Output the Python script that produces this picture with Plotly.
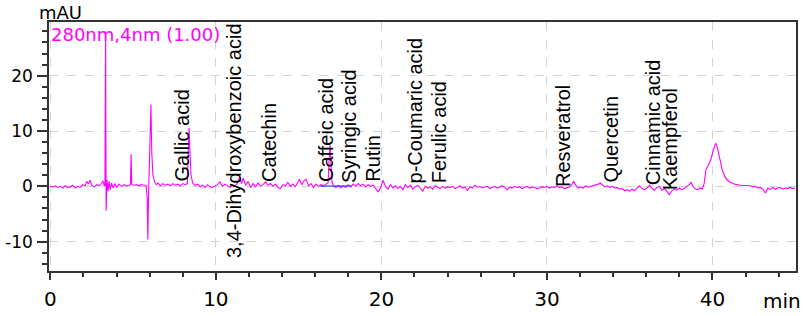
import plotly.graph_objects as go

# ---- data: chromatogram (retention time in min, signal in mAU) ----
rt = [
    0.00, 0.15, 0.30, 0.45, 0.60, 0.75, 0.90, 1.05, 1.20, 1.35, 1.50, 1.65, 1.80, 1.95, 2.10, 2.20, 2.30, 2.40, 2.50, 2.65,
    2.80, 2.95, 3.10, 3.18, 3.25, 3.30, 3.34, 3.37, 3.42, 3.48, 3.55, 3.62, 3.70, 3.80, 3.90, 4.00, 4.15, 4.30, 4.45, 4.60,
    4.75, 4.84, 4.88, 4.92, 5.05, 5.20, 5.35, 5.50, 5.65, 5.78, 5.85, 5.89, 5.93, 5.98, 6.04, 6.08, 6.13, 6.20, 6.30, 6.40,
    6.50, 6.65, 6.80, 6.95, 7.10, 7.25, 7.40, 7.55, 7.70, 7.85, 8.00, 8.15, 8.28, 8.33, 8.38, 8.44, 8.50, 8.60, 8.75, 8.90,
    9.05, 9.20, 9.35, 9.50, 9.65, 9.80, 9.95, 10.10, 10.25, 10.40, 10.55, 10.70, 10.85, 11.00, 11.15, 11.30, 11.45, 11.55, 11.65, 11.80,
    11.95, 12.10, 12.25, 12.40, 12.55, 12.70, 12.85, 13.00, 13.15, 13.30, 13.45, 13.60, 13.75, 13.90, 14.05, 14.20, 14.35, 14.50, 14.65, 14.80,
    14.95, 15.05, 15.20, 15.30, 15.45, 15.60, 15.75, 15.90, 16.05, 16.20, 16.35, 16.50, 16.65, 16.78, 16.84, 16.90, 16.96, 17.02, 17.10, 17.25,
    17.40, 17.55, 17.70, 17.85, 18.00, 18.15, 18.30, 18.45, 18.60, 18.75, 18.90, 19.05, 19.20, 19.35, 19.50, 19.65, 19.80, 19.95, 20.10, 20.25,
    20.40, 20.55, 20.70, 20.85, 21.00, 21.15, 21.30, 21.45, 21.60, 21.75, 21.90, 22.05, 22.20, 22.35, 22.50, 22.65, 22.80, 22.95, 23.10, 23.25,
    23.40, 23.55, 23.70, 23.85, 24.00, 24.15, 24.30, 24.45, 24.60, 24.75, 24.90, 25.05, 25.20, 25.35, 25.50, 25.65, 25.80, 25.95, 26.10, 26.25,
    26.40, 26.55, 26.70, 26.85, 27.00, 27.15, 27.30, 27.45, 27.60, 27.75, 27.90, 28.05, 28.20, 28.35, 28.50, 28.65, 28.80, 28.95, 29.10, 29.25,
    29.40, 29.55, 29.70, 29.85, 30.00, 30.15, 30.30, 30.45, 30.60, 30.75, 30.90, 31.05, 31.20, 31.35, 31.50, 31.62, 31.75, 31.90, 32.05, 32.20,
    32.35, 32.50, 32.65, 32.80, 32.95, 33.10, 33.22, 33.35, 33.50, 33.65, 33.80, 33.95, 34.10, 34.25, 34.40, 34.55, 34.70, 34.85, 35.00, 35.15,
    35.30, 35.45, 35.60, 35.75, 35.90, 36.05, 36.20, 36.35, 36.50, 36.65, 36.80, 36.95, 37.10, 37.25, 37.40, 37.55, 37.70, 37.85, 38.00, 38.15,
    38.30, 38.45, 38.60, 38.70, 38.80, 38.95, 39.10, 39.25, 39.40, 39.50, 39.60, 39.75, 39.90, 40.05, 40.20, 40.30, 40.40, 40.50, 40.60, 40.75,
    40.90, 41.10, 41.40, 41.70, 42.00, 42.30, 42.45, 42.60, 42.75, 42.90, 43.05, 43.20, 43.35, 43.50, 43.65, 43.80, 43.95, 44.10, 44.25, 44.40,
    44.55, 44.70, 44.85, 45.00,
]
mau = [
    0.0, -0.1, 0.1, -0.2, 0.0, -0.3, 0.1, -0.2, -0.1, 0.2, -0.3, 0.0, -0.2, 0.3, 0.1, 0.9, 0.4, 1.1, 0.2, -0.1,
    0.3, 0.1, 0.6, 1.0, 0.2, 0.1, 28.0, -4.4, 1.2, -0.9, 0.9, -0.6, 0.6, -0.3, 0.5, -0.2, 0.4, 0.0, 0.3, 0.1,
    0.2, 0.3, 5.8, 0.4, 0.2, 0.3, 0.1, 0.3, 0.2, 0.2, -2.0, -9.6, -2.0, 3.0, 10.0, 14.8, 6.0, 2.0, 0.8, 0.3,
    0.6, 0.1, 0.5, 0.2, 0.4, 0.1, 0.5, 0.2, 0.4, 0.1, 0.5, 0.3, 0.5, 5.0, 10.6, 6.0, 2.0, 0.6, 0.2, 0.4,
    -0.1, 0.2, -0.2, 0.3, -0.1, -0.2, 0.1, 0.3, 0.8, 0.0, 0.4, 0.1, -0.2, 0.3, 0.0, 0.6, 1.7, 0.5, 1.5, 0.2,
    0.9, -0.2, 0.5, -0.1, 0.6, 0.0, 0.3, 0.8, 0.2, 0.5, 0.0, 0.4, -0.2, -0.4, 0.3, 0.1, 0.7, 0.0, 0.4, -0.1,
    0.6, 1.3, 0.3, 0.9, 1.3, 0.1, 0.5, -0.2, 0.4, 0.0, 0.3, 0.1, 0.4, 0.6, 4.5, 7.5, 4.0, 0.8, 0.1, -0.2,
    0.2, -0.3, 0.1, -0.2, 0.3, -0.1, 0.4, 0.0, 0.5, 0.1, 0.4, -0.1, 0.3, 0.0, 0.2, -0.4, -1.0, -0.3, 1.1, 0.0,
    -0.5, 0.3, -0.3, 0.1, -0.4, 0.0, -0.6, 0.3, -0.2, 0.2, -0.5, -0.1, 0.2, -0.3, -0.9, 0.0, -0.3, -0.1, -0.5, 0.1,
    -0.2, -0.4, 0.0, -0.3, -0.1, -0.2, 0.0, -0.4, -0.2, 0.1, -0.3, -0.1, -0.7, -0.1, -0.3, 0.2, -0.2, 0.0, -0.3, -0.1,
    0.0, -0.4, -0.2, 0.0, -0.3, -0.1, 0.1, -0.2, -0.6, -0.1, -0.3, 0.0, -0.2, -0.1, -0.4, -0.2, 0.0, -0.3, -0.1, -0.2,
    -0.4, -0.3, -0.1, -0.2, 0.0, -0.3, -0.1, -0.2, 0.1, -0.2, -0.1, -0.4, -0.2, -0.1, 0.3, 0.9, 0.2, -0.3, -0.1, -0.3,
    0.1, -0.2, 0.0, 0.1, 0.2, 0.4, 0.6, 0.2, -0.1, 0.1, -0.2, 0.0, -0.3, -0.2, -0.5, -0.4, -0.8, -0.6, -0.9, -0.5,
    -0.8, -0.3, 0.1, -0.4, -0.6, -0.3, 0.2, -0.4, -0.7, -0.2, 0.0, -0.7, -0.4, -0.9, -1.5, -0.8, -0.5, -0.7, -0.3, -0.6,
    -0.4, 0.0, 0.3, 0.8, 0.1, -0.4, -0.6, -0.3, -0.5, 0.5, 2.9, 3.8, 4.8, 6.5, 7.8, 7.0, 5.4, 4.0, 2.9, 1.8,
    1.1, 0.7, 0.35, 0.2, 0.1, 0.1, -0.1, 0.0, -0.3, -0.2, -0.5, -1.2, -0.3, -0.6, -0.2, -0.5, -0.3, -0.2, -0.5, -0.3,
    -0.4, -0.2, -0.4, -0.3,
]

# integration baseline drawn under the caffeic acid peak
baseline_rt = [16.3, 18.2]
baseline_mau = [0.05, 0.05]

# ---- peak labels ----
peak_names = ["Gallic acid", "3,4-Dihydroxybenzoic acid", "Catechin", "Caffeic acid",
              "Syringic acid", "Rutin", "p-Coumaric acid", "Ferulic acid",
              "Resveratrol", "Quercetin", "Cinnamic acid", "Kaempferol"]
peak_rt = [7.95, 11.1, 13.2, 16.65, 18.07, 19.5, 22.0, 23.5, 30.97, 33.87, 36.43, 37.4]

x_ticks = [0, 10, 20, 30, 40]
y_ticks = [-10, 0, 10, 20]

# label foot positions (layout), in mAU
label_foot = [0.5, -13.4, 0.5, 0.4, 0.25, 0.4, 0.25, 0.25, -0.5, 0.4, -0.1, -1.0]

MAG = "#ff00ff"
FONT = "Liberation Sans, Arial, sans-serif"
WFONT = "DejaVu Sans, sans-serif"

fig = go.Figure()
fig.add_trace(go.Scatter(x=rt, y=mau, mode="lines",
                         line=dict(color=MAG, width=1.1), hoverinfo="skip"))
fig.add_trace(go.Scatter(x=baseline_rt, y=baseline_mau, mode="lines",
                         line=dict(color="#2a3cff", width=1.2), hoverinfo="skip"))

annotations = []
for name, t, foot in zip(peak_names, peak_rt, label_foot):
    annotations.append(dict(x=t, y=foot, xref="x", yref="y", text=name, textangle=-90,
                            showarrow=False, xanchor="center", yanchor="bottom",
                            font=dict(family=FONT, size=20, color="black")))
annotations.append(dict(x=0.0, y=1.0, xref="paper", yref="paper", text="280nm,4nm (1.00)",
                        showarrow=False, xanchor="left", yanchor="top",
                        font=dict(family=WFONT, size=18, color=MAG)))
annotations.append(dict(x=-0.016, y=1.088, xref="paper", yref="paper", text="mAU",
                        showarrow=False, xanchor="left", yanchor="top",
                        font=dict(family=WFONT, size=18, color="black")))
annotations.append(dict(x=1.01, y=-0.065, xref="paper", yref="paper", text="min",
                        showarrow=False, xanchor="right", yanchor="top",
                        font=dict(family=WFONT, size=20, color="black")))

fig.update_layout(
    width=803, height=316,
    margin=dict(l=49, r=7, t=22, b=45, autoexpand=False),
    paper_bgcolor="white", plot_bgcolor="white",
    showlegend=False,
    annotations=annotations,
)
fig.update_xaxes(
    automargin=False,
    range=[-0.08, 45.05], tickvals=x_ticks, ticktext=[str(v) for v in x_ticks],
    showline=True, linecolor="#333333", linewidth=1.5, mirror=True,
    ticks="outside", ticklen=7, tickwidth=1.5, tickcolor="#333333",
    minor=dict(dtick=2, tick0=0, ticks="outside", ticklen=4, tickcolor="#333333", showgrid=False),
    showgrid=True, gridcolor="#d4d4d4", griddash="dash", gridwidth=1,
    zeroline=False, tickfont=dict(family=WFONT, size=20, color="black"),
    ticklabelstandoff=2,
)
fig.update_yaxes(
    automargin=False,
    range=[-15.3, 29.7], tickvals=y_ticks, ticktext=[str(v) for v in y_ticks],
    showline=True, linecolor="#333333", linewidth=1.5, mirror=True,
    ticks="outside", ticklen=10, tickwidth=1.5, tickcolor="#333333",
    minor=dict(dtick=2, tick0=0, ticks="outside", ticklen=5, tickcolor="#333333", showgrid=False),
    showgrid=True, gridcolor="#d4d4d4", griddash="dash", gridwidth=1,
    zeroline=False, tickfont=dict(family=WFONT, size=17, color="black"),
    ticklabelstandoff=1,
)

fig.write_html("out.html", config={"displayModeBar": False},
               post_script="document.body.style.margin='0';document.body.style.overflow='hidden';")
